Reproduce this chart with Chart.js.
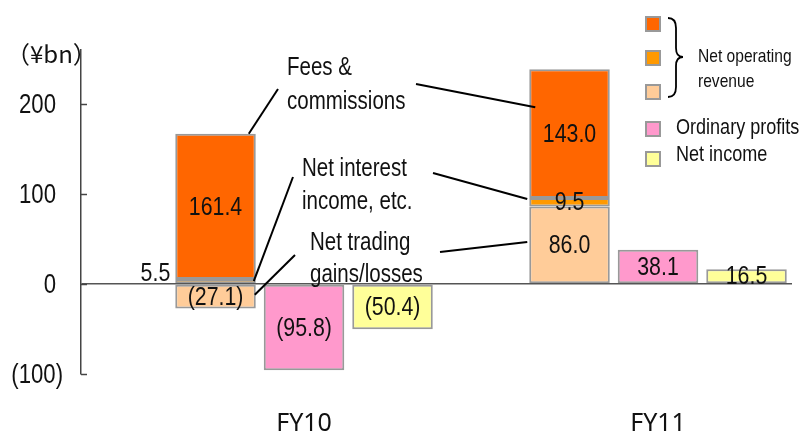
<!DOCTYPE html>
<html>
<head>
<meta charset="utf-8">
<script src="https://cdn.jsdelivr.net/npm/chart.js@4"></script>
<style>
  html, body { margin: 0; padding: 0; background: #fff; }
  #wrap { width: 810px; height: 435px; }
</style>
</head>
<body>
<div id="wrap"><canvas id="chart" width="810" height="435"></canvas></div>
<script>
const categories = ['FY10', 'FY11'];
const netTrading = [-27.1, 86.0];
const netInterest = [5.5, 9.5];
const feesCommissions = [161.4, 143.0];
const ordinaryProfits = [-95.8, 38.1];
const netIncome = [-50.4, 16.5];
const yTicks = [-100, 0, 100, 200];
const yTickLabels = ['(100)', '0', '100', '200'];

const FONT = "'Liberation Sans', Arial, sans-serif";
const SQUEEZE = 0.82;   // no narrow face installed, so squeeze Liberation Sans
const TXT = '#111';

function pts(arr) {
    return arr.map((v, i) => ({ x: i, y: v }));
}
function fmt(v) {
    return v < 0 ? '(' + Math.abs(v).toFixed(1) + ')' : v.toFixed(1);
}
function narrowText(ctx, str, x, y, size, align) {
    ctx.save();
    ctx.translate(x, y);
    ctx.scale(SQUEEZE, 1);
    ctx.font = size + 'px ' + FONT;
    ctx.textAlign = align || 'left';
    ctx.textBaseline = 'middle';
    ctx.fillStyle = TXT;
    ctx.fillText(str, 0, 0);
    ctx.restore();
}

const extras = {
    id: 'extras',
    afterDraw(chart) {
        const ctx = chart.ctx;
        const y = chart.scales.y;
        const area = chart.chartArea;
        ctx.save();

        // y ticks: marks inside the axis, labels outside
        ctx.strokeStyle = '#444';
        ctx.lineWidth = 1.5;
        yTicks.forEach((v, i) => {
            const py = Math.round(y.getPixelForValue(v)) + 0.5;
            ctx.beginPath();
            ctx.moveTo(area.left, py);
            ctx.lineTo(area.left + 6, py);
            ctx.stroke();
            const lbl = yTickLabels[i];
            const right = lbl.endsWith(')') ? area.left - 18 : area.left - 25;
            narrowText(ctx, lbl, right, py + 1, 27, 'right');
        });

        // unit
        ctx.fillStyle = TXT;
        ctx.font = "24px 'Noto Sans CJK JP', 'Noto Sans', sans-serif";
        ctx.textAlign = 'left';
        ctx.textBaseline = 'middle';
        ctx.fillText('（¥bn）', 6, 54);

        // bar values
        chart.data.datasets.forEach((ds, di) => {
            const meta = chart.getDatasetMeta(di);
            meta.data.forEach((el, i) => {
                const v = ds.data[i].y;
                if (ds.outsideLabel && ds.outsideLabel[i]) {
                    narrowText(ctx, fmt(v), el.x - el.width / 2 - 5, el.y - 5, 26, 'right');
                } else {
                    narrowText(ctx, fmt(v), el.x, (el.y + el.base) / 2 + 1, 26, 'center');
                }
            });
        });

        // annotations
        [['Fees &', 287, 68], ['commissions', 287, 102],
         ['Net interest', 302, 169], ['income, etc.', 302, 202],
         ['Net trading', 310, 243], ['gains/losses', 310, 275]].forEach(t => {
            narrowText(ctx, t[0], t[1], t[2], 25, 'left');
        });

        const bar = (di, i) => chart.getDatasetMeta(di).data[i];
        const top = el => Math.min(el.y, el.base);
        const f0 = bar(2, 0), n0 = bar(1, 0), t0 = bar(0, 0);
        const f1 = bar(2, 1), n1 = bar(1, 1), t1 = bar(0, 1);
        const leaders = [
            [f0.x + f0.width / 2 - 7, top(f0), 278, 89],
            [n0.x + n0.width / 2 - 2, top(n0) + 2, 293, 177],
            [t0.x + t0.width / 2 - 1, top(t0) + 10, 295, 255],
            [f1.x - f1.width / 2 + 6, top(f1) + 38, 416, 84],
            [n1.x - n1.width / 2 - 2, top(n1) + 1, 433, 173],
            [t1.x - t1.width / 2 - 2, (t1.y + t1.base) / 2 - 3, 440, 252]
        ];
        ctx.strokeStyle = '#000';
        ctx.lineWidth = 2;
        leaders.forEach(l => {
            ctx.beginPath();
            ctx.moveTo(l[0], l[1]);
            ctx.lineTo(l[2], l[3]);
            ctx.stroke();
        });

        // legend
        const order = [2, 1, 0, 3, 4];
        const tops = [17, 51, 85, 122, 152];
        order.forEach((di, k) => {
            const ds = chart.data.datasets[di];
            ctx.fillStyle = ds.backgroundColor;
            ctx.fillRect(646, tops[k], 14, 14);
            ctx.strokeStyle = '#999';
            ctx.lineWidth = 2;
            ctx.strokeRect(646, tops[k], 14, 14);
        });
        ctx.strokeStyle = '#000';
        ctx.lineWidth = 1.8;
        ctx.beginPath();
        ctx.moveTo(668, 18);
        ctx.quadraticCurveTo(676, 18, 676, 28);
        ctx.lineTo(676, 48);
        ctx.quadraticCurveTo(676, 57, 683, 57);
        ctx.quadraticCurveTo(676, 57, 676, 66);
        ctx.lineTo(676, 87);
        ctx.quadraticCurveTo(676, 97, 668, 97);
        ctx.stroke();

        narrowText(ctx, 'Net operating', 698, 57, 19);
        narrowText(ctx, 'revenue', 698, 82, 19);
        narrowText(ctx, chart.data.datasets[3].label, 676, 128, 22);
        narrowText(ctx, chart.data.datasets[4].label, 676, 155, 22);

        ctx.restore();
    }
};

const barStyle = {
    borderColor: '#999999',
    borderWidth: 2,
    borderSkipped: false,
    categoryPercentage: 0.75,
    barPercentage: 0.91
};

new Chart(document.getElementById('chart'), {
    type: 'bar',
    data: {
        datasets: [
            Object.assign({ label: 'Net trading gains/losses', data: pts(netTrading), backgroundColor: '#FFCC99', stack: 'rev' }, barStyle),
            Object.assign({ label: 'Net interest income, etc.', data: pts(netInterest), backgroundColor: '#FF9900', stack: 'rev', outsideLabel: [true, false] }, barStyle),
            Object.assign({ label: 'Fees & commissions', data: pts(feesCommissions), backgroundColor: '#FF6600', stack: 'rev' }, barStyle),
            Object.assign({ label: 'Ordinary profits', data: pts(ordinaryProfits), backgroundColor: '#FF99CC', stack: 'op' }, barStyle),
            Object.assign({ label: 'Net income', data: pts(netIncome), backgroundColor: '#FFFF99', stack: 'ni' }, barStyle)
        ]
    },
    options: {
        responsive: false,
        animation: false,
        layout: { padding: { top: 50, right: 18, left: 0, bottom: 0 } },
        plugins: {
            legend: { display: false },
            tooltip: { enabled: false }
        },
        scales: {
            x: {
                type: 'linear',
                min: -0.63,
                max: 1.3785,
                offset: false,
                grid: { display: false, drawTicks: false },
                border: { display: false },
                afterBuildTicks: s => { s.ticks = categories.map((c, i) => ({ value: i })); },
                afterFit: s => { s.height = 61; },
                ticks: {
                    padding: 35,
                    color: TXT,
                    font: { family: "'Noto Sans', sans-serif", size: 25 },
                    callback: v => categories[v]
                }
            },
            y: {
                min: -100,
                max: 260,
                stacked: true,
                afterBuildTicks: s => { s.ticks = yTicks.map(v => ({ value: v })); },
                afterFit: s => { s.width = 81; },
                border: { display: true, color: '#444', width: 1.5, z: 1 },
                grid: {
                    drawTicks: false,
                    z: 1,
                    lineWidth: 1.5,
                    color: c => (c.tick && c.tick.value === 0 ? '#555' : 'rgba(0,0,0,0)')
                },
                ticks: { display: false }
            }
        }
    },
    plugins: [extras]
});
</script>
</body>
</html>
